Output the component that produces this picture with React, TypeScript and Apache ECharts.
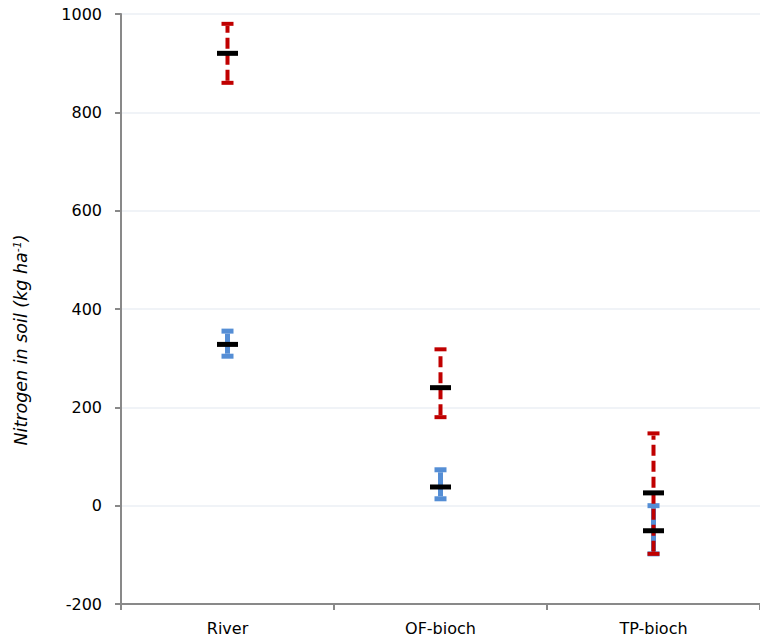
import React, { useEffect, useRef } from "react";
import * as echarts from "echarts";

const categories = ["River", "OF-bioch", "TP-bioch"];
const redMean = [920, 240, 26];
const redLow = [860, 180, -98];
const redHigh = [980, 318, 147];
const blueMean = [328, 38, -51];
const blueLow = [304, 14, -98];
const blueHigh = [355, 73, 0];
const yTicks = { min: -200, max: 1000, interval: 200 };

const RED = "#C00000";
const BLUE = "#558ED5";
const FONT = "DejaVu Sans";

function errorSeries(low: number[], high: number[], color: string, width: number, dash: number[] | null, capH: number) {
  return {
    type: "custom",
    z: 3,
    data: low.map((l, i) => [i, l, high[i]]),
    renderItem: (_p: any, api: any) => {
      const lo = api.coord([api.value(0), api.value(1)]);
      const hi = api.coord([api.value(0), api.value(2)]);
      const x = lo[0];
      const capW = 12;
      return {
        type: "group",
        children: [
          {
            type: "line",
            shape: { x1: x, y1: lo[1] - capH / 2, x2: x, y2: hi[1] + capH / 2 },
            style: { stroke: color, lineWidth: width, lineDash: dash || undefined },
          },
          {
            type: "rect",
            shape: { x: x - capW / 2, y: hi[1] - capH / 2, width: capW, height: capH },
            style: { fill: color },
          },
          {
            type: "rect",
            shape: { x: x - capW / 2, y: lo[1] - capH / 2, width: capW, height: capH },
            style: { fill: color },
          },
        ],
      };
    },
  };
}

function meanSeries(values: number[]) {
  return {
    type: "custom",
    z: 5,
    data: values.map((v, i) => [i, v]),
    renderItem: (_p: any, api: any) => {
      const p = api.coord([api.value(0), api.value(1)]);
      return {
        type: "rect",
        shape: { x: p[0] - 10.5, y: p[1] - 2.5, width: 21, height: 5 },
        style: { fill: "#000" },
      };
    },
  };
}

export default function App() {
  const ref = useRef<HTMLDivElement>(null);
  useEffect(() => {
    const chart = echarts.init(ref.current!, null, { renderer: "svg" });
    chart.setOption({
      animation: false,
      backgroundColor: "#fff",
      grid: { left: 121, right: -9, top: 14, bottom: 38, containLabel: false },
      xAxis: {
        type: "category",
        data: categories,
        boundaryGap: true,
        axisLine: { onZero: false, lineStyle: { color: "#898989", width: 2 } },
        axisTick: { show: true, length: 6, lineStyle: { color: "#898989", width: 2 } },
        axisLabel: { color: "#000", fontFamily: FONT, fontSize: 16, margin: 16 },
        splitLine: { show: false },
      },
      yAxis: {
        type: "value",
        min: yTicks.min,
        max: yTicks.max,
        interval: yTicks.interval,
        axisLine: { show: true, lineStyle: { color: "#898989", width: 2 } },
        axisTick: { show: true, length: 6, lineStyle: { color: "#898989", width: 2 } },
        axisLabel: {
          color: "#000",
          fontFamily: FONT,
          fontSize: 16,
          margin: 19,
          formatter: (v: number) => String(v),
        },
        splitLine: { show: true, lineStyle: { color: "#EBEFF5", width: 1.5 } },
      },
      graphic: [
        {
          type: "text",
          x: 21,
          y: 340,
          rotation: Math.PI / 2,
          style: {
            text: "{a|Nitrogen in soil (kg ha}{s|-1}{a|)}",
            align: "center",
            verticalAlign: "middle",
            rich: {
              a: { fontSize: 17.5, fontStyle: "italic", fontFamily: FONT, fill: "#000" },
              s: { fontSize: 11, fontStyle: "italic", fontFamily: FONT, fill: "#000", verticalAlign: "top" },
            },
          },
        },
      ],
      series: [
        errorSeries(blueLow, blueHigh, BLUE, 5, null, 5),
        errorSeries(redLow, redHigh, RED, 4, [11, 5], 4),
        meanSeries(redMean),
        meanSeries(blueMean),
      ],
    });
    return () => chart.dispose();
  }, []);
  return <div ref={ref} style={{ position: "absolute", left: 0, top: 0, width: 760, height: 642 }} />;
}
